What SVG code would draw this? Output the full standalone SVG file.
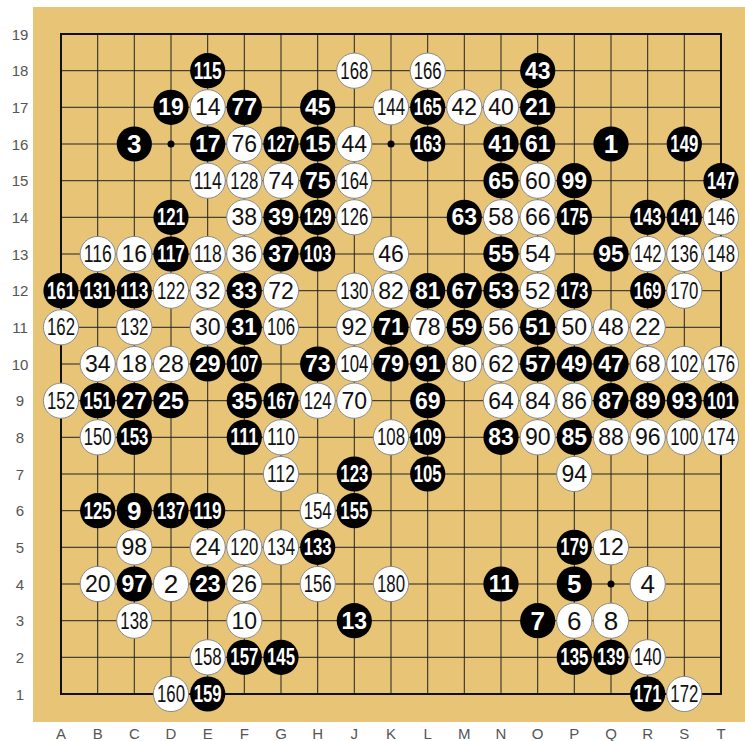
<svg xmlns="http://www.w3.org/2000/svg" width="745" height="741" viewBox="0 0 745 741">
<style>
.board{fill:#E8C477}
.grid line{stroke:#222;stroke-width:1}
.edge{fill:none;stroke:#111;stroke-width:2}
.star{fill:#000}
.b circle{fill:#000}
.w circle{fill:#fff;stroke:#8a8a8a;stroke-width:1}
text{font-family:"Liberation Sans",Arial,sans-serif;text-anchor:middle;dominant-baseline:central}
.b text{fill:#fff;font-weight:bold}
.w text{fill:#111}
.d1{font-size:26px}
.d2{font-size:23px}
.d3{font-size:23px}
.lab{fill:#555;font-size:15px}
</style>
<rect x="0" y="0" width="745" height="741" fill="#fff"/>
<rect class="board" x="33" y="7" width="712" height="715"/>
<g id="grid" class="grid">
<line x1="61" y1="70.7" x2="721" y2="70.7"/><line x1="61" y1="107.3" x2="721" y2="107.3"/><line x1="61" y1="144" x2="721" y2="144"/><line x1="61" y1="180.7" x2="721" y2="180.7"/><line x1="61" y1="217.3" x2="721" y2="217.3"/><line x1="61" y1="254" x2="721" y2="254"/><line x1="61" y1="290.7" x2="721" y2="290.7"/><line x1="61" y1="327.3" x2="721" y2="327.3"/><line x1="61" y1="364" x2="721" y2="364"/><line x1="61" y1="400.7" x2="721" y2="400.7"/><line x1="61" y1="437.3" x2="721" y2="437.3"/><line x1="61" y1="474" x2="721" y2="474"/><line x1="61" y1="510.7" x2="721" y2="510.7"/><line x1="61" y1="547.3" x2="721" y2="547.3"/><line x1="61" y1="584" x2="721" y2="584"/><line x1="61" y1="620.7" x2="721" y2="620.7"/><line x1="61" y1="657.3" x2="721" y2="657.3"/>
<line x1="97.7" y1="34" x2="97.7" y2="694"/><line x1="134.3" y1="34" x2="134.3" y2="694"/><line x1="171" y1="34" x2="171" y2="694"/><line x1="207.7" y1="34" x2="207.7" y2="694"/><line x1="244.3" y1="34" x2="244.3" y2="694"/><line x1="281" y1="34" x2="281" y2="694"/><line x1="317.7" y1="34" x2="317.7" y2="694"/><line x1="354.3" y1="34" x2="354.3" y2="694"/><line x1="391" y1="34" x2="391" y2="694"/><line x1="427.7" y1="34" x2="427.7" y2="694"/><line x1="464.3" y1="34" x2="464.3" y2="694"/><line x1="501" y1="34" x2="501" y2="694"/><line x1="537.7" y1="34" x2="537.7" y2="694"/><line x1="574.3" y1="34" x2="574.3" y2="694"/><line x1="611" y1="34" x2="611" y2="694"/><line x1="647.7" y1="34" x2="647.7" y2="694"/><line x1="684.3" y1="34" x2="684.3" y2="694"/>
<rect class="edge" x="61" y="34" width="660" height="660"/>
<circle class="star" cx="171" cy="144" r="3.5"/><circle class="star" cx="391" cy="144" r="3.5"/><circle class="star" cx="611" cy="584" r="3.5"/>
</g>
<g id="labels" class="lab">
<text class="lab" x="20" y="34">19</text><text class="lab" x="20" y="70.7">18</text><text class="lab" x="20" y="107.3">17</text><text class="lab" x="20" y="144">16</text><text class="lab" x="20" y="180.7">15</text><text class="lab" x="20" y="217.3">14</text><text class="lab" x="20" y="254">13</text><text class="lab" x="20" y="290.7">12</text><text class="lab" x="20" y="327.3">11</text><text class="lab" x="20" y="364">10</text><text class="lab" x="20" y="400.7">9</text><text class="lab" x="20" y="437.3">8</text><text class="lab" x="20" y="474">7</text><text class="lab" x="20" y="510.7">6</text><text class="lab" x="20" y="547.3">5</text><text class="lab" x="20" y="584">4</text><text class="lab" x="20" y="620.7">3</text><text class="lab" x="20" y="657.3">2</text><text class="lab" x="20" y="694">1</text>
<text class="lab" x="61" y="733">A</text><text class="lab" x="97.7" y="733">B</text><text class="lab" x="134.3" y="733">C</text><text class="lab" x="171" y="733">D</text><text class="lab" x="207.7" y="733">E</text><text class="lab" x="244.3" y="733">F</text><text class="lab" x="281" y="733">G</text><text class="lab" x="317.7" y="733">H</text><text class="lab" x="354.3" y="733">J</text><text class="lab" x="391" y="733">K</text><text class="lab" x="427.7" y="733">L</text><text class="lab" x="464.3" y="733">M</text><text class="lab" x="501" y="733">N</text><text class="lab" x="537.7" y="733">O</text><text class="lab" x="574.3" y="733">P</text><text class="lab" x="611" y="733">Q</text><text class="lab" x="647.7" y="733">R</text><text class="lab" x="684.3" y="733">S</text><text class="lab" x="721" y="733">T</text>
</g>
<g id="stones">
<!-- row 18 -->
<g id="E18" class="b"><circle cx="207.7" cy="70.7" r="17.6"/><text class="d3" x="207.7" y="70.7" textLength="28" lengthAdjust="spacingAndGlyphs">115</text></g>
<g id="J18" class="w"><circle cx="354.3" cy="70.7" r="17.6"/><text class="d3" x="354.3" y="70.7" textLength="28" lengthAdjust="spacingAndGlyphs">168</text></g>
<g id="L18" class="w"><circle cx="427.7" cy="70.7" r="17.6"/><text class="d3" x="427.7" y="70.7" textLength="28" lengthAdjust="spacingAndGlyphs">166</text></g>
<g id="O18" class="b"><circle cx="537.7" cy="70.7" r="17.6"/><text class="d2" x="537.7" y="70.7">43</text></g>
<!-- row 17 -->
<g id="D17" class="b"><circle cx="171" cy="107.3" r="17.6"/><text class="d2" x="171" y="107.3">19</text></g>
<g id="E17" class="w"><circle cx="207.7" cy="107.3" r="17.6"/><text class="d2" x="207.7" y="107.3">14</text></g>
<g id="F17" class="b"><circle cx="244.3" cy="107.3" r="17.6"/><text class="d2" x="244.3" y="107.3">77</text></g>
<g id="H17" class="b"><circle cx="317.7" cy="107.3" r="17.6"/><text class="d2" x="317.7" y="107.3">45</text></g>
<g id="K17" class="w"><circle cx="391" cy="107.3" r="17.6"/><text class="d3" x="391" y="107.3" textLength="28" lengthAdjust="spacingAndGlyphs">144</text></g>
<g id="L17" class="b"><circle cx="427.7" cy="107.3" r="17.6"/><text class="d3" x="427.7" y="107.3" textLength="28" lengthAdjust="spacingAndGlyphs">165</text></g>
<g id="M17" class="w"><circle cx="464.3" cy="107.3" r="17.6"/><text class="d2" x="464.3" y="107.3">42</text></g>
<g id="N17" class="w"><circle cx="501" cy="107.3" r="17.6"/><text class="d2" x="501" y="107.3">40</text></g>
<g id="O17" class="b"><circle cx="537.7" cy="107.3" r="17.6"/><text class="d2" x="537.7" y="107.3">21</text></g>
<!-- row 16 -->
<g id="C16" class="b"><circle cx="134.3" cy="144" r="17.6"/><text class="d1" x="134.3" y="144">3</text></g>
<g id="E16" class="b"><circle cx="207.7" cy="144" r="17.6"/><text class="d2" x="207.7" y="144">17</text></g>
<g id="F16" class="w"><circle cx="244.3" cy="144" r="17.6"/><text class="d2" x="244.3" y="144">76</text></g>
<g id="G16" class="b"><circle cx="281" cy="144" r="17.6"/><text class="d3" x="281" y="144" textLength="28" lengthAdjust="spacingAndGlyphs">127</text></g>
<g id="H16" class="b"><circle cx="317.7" cy="144" r="17.6"/><text class="d2" x="317.7" y="144">15</text></g>
<g id="J16" class="w"><circle cx="354.3" cy="144" r="17.6"/><text class="d2" x="354.3" y="144">44</text></g>
<g id="L16" class="b"><circle cx="427.7" cy="144" r="17.6"/><text class="d3" x="427.7" y="144" textLength="28" lengthAdjust="spacingAndGlyphs">163</text></g>
<g id="N16" class="b"><circle cx="501" cy="144" r="17.6"/><text class="d2" x="501" y="144">41</text></g>
<g id="O16" class="b"><circle cx="537.7" cy="144" r="17.6"/><text class="d2" x="537.7" y="144">61</text></g>
<g id="Q16" class="b"><circle cx="611" cy="144" r="17.6"/><text class="d1" x="611" y="144">1</text></g>
<g id="S16" class="b"><circle cx="684.3" cy="144" r="17.6"/><text class="d3" x="684.3" y="144" textLength="28" lengthAdjust="spacingAndGlyphs">149</text></g>
<!-- row 15 -->
<g id="E15" class="w"><circle cx="207.7" cy="180.7" r="17.6"/><text class="d3" x="207.7" y="180.7" textLength="28" lengthAdjust="spacingAndGlyphs">114</text></g>
<g id="F15" class="w"><circle cx="244.3" cy="180.7" r="17.6"/><text class="d3" x="244.3" y="180.7" textLength="28" lengthAdjust="spacingAndGlyphs">128</text></g>
<g id="G15" class="w"><circle cx="281" cy="180.7" r="17.6"/><text class="d2" x="281" y="180.7">74</text></g>
<g id="H15" class="b"><circle cx="317.7" cy="180.7" r="17.6"/><text class="d2" x="317.7" y="180.7">75</text></g>
<g id="J15" class="w"><circle cx="354.3" cy="180.7" r="17.6"/><text class="d3" x="354.3" y="180.7" textLength="28" lengthAdjust="spacingAndGlyphs">164</text></g>
<g id="N15" class="b"><circle cx="501" cy="180.7" r="17.6"/><text class="d2" x="501" y="180.7">65</text></g>
<g id="O15" class="w"><circle cx="537.7" cy="180.7" r="17.6"/><text class="d2" x="537.7" y="180.7">60</text></g>
<g id="P15" class="b"><circle cx="574.3" cy="180.7" r="17.6"/><text class="d2" x="574.3" y="180.7">99</text></g>
<g id="T15" class="b"><circle cx="721" cy="180.7" r="17.6"/><text class="d3" x="721" y="180.7" textLength="28" lengthAdjust="spacingAndGlyphs">147</text></g>
<!-- row 14 -->
<g id="D14" class="b"><circle cx="171" cy="217.3" r="17.6"/><text class="d3" x="171" y="217.3" textLength="28" lengthAdjust="spacingAndGlyphs">121</text></g>
<g id="F14" class="w"><circle cx="244.3" cy="217.3" r="17.6"/><text class="d2" x="244.3" y="217.3">38</text></g>
<g id="G14" class="b"><circle cx="281" cy="217.3" r="17.6"/><text class="d2" x="281" y="217.3">39</text></g>
<g id="H14" class="b"><circle cx="317.7" cy="217.3" r="17.6"/><text class="d3" x="317.7" y="217.3" textLength="28" lengthAdjust="spacingAndGlyphs">129</text></g>
<g id="J14" class="w"><circle cx="354.3" cy="217.3" r="17.6"/><text class="d3" x="354.3" y="217.3" textLength="28" lengthAdjust="spacingAndGlyphs">126</text></g>
<g id="M14" class="b"><circle cx="464.3" cy="217.3" r="17.6"/><text class="d2" x="464.3" y="217.3">63</text></g>
<g id="N14" class="w"><circle cx="501" cy="217.3" r="17.6"/><text class="d2" x="501" y="217.3">58</text></g>
<g id="O14" class="w"><circle cx="537.7" cy="217.3" r="17.6"/><text class="d2" x="537.7" y="217.3">66</text></g>
<g id="P14" class="b"><circle cx="574.3" cy="217.3" r="17.6"/><text class="d3" x="574.3" y="217.3" textLength="28" lengthAdjust="spacingAndGlyphs">175</text></g>
<g id="R14" class="b"><circle cx="647.7" cy="217.3" r="17.6"/><text class="d3" x="647.7" y="217.3" textLength="28" lengthAdjust="spacingAndGlyphs">143</text></g>
<g id="S14" class="b"><circle cx="684.3" cy="217.3" r="17.6"/><text class="d3" x="684.3" y="217.3" textLength="28" lengthAdjust="spacingAndGlyphs">141</text></g>
<g id="T14" class="w"><circle cx="721" cy="217.3" r="17.6"/><text class="d3" x="721" y="217.3" textLength="28" lengthAdjust="spacingAndGlyphs">146</text></g>
<!-- row 13 -->
<g id="B13" class="w"><circle cx="97.7" cy="254" r="17.6"/><text class="d3" x="97.7" y="254" textLength="28" lengthAdjust="spacingAndGlyphs">116</text></g>
<g id="C13" class="w"><circle cx="134.3" cy="254" r="17.6"/><text class="d2" x="134.3" y="254">16</text></g>
<g id="D13" class="b"><circle cx="171" cy="254" r="17.6"/><text class="d3" x="171" y="254" textLength="28" lengthAdjust="spacingAndGlyphs">117</text></g>
<g id="E13" class="w"><circle cx="207.7" cy="254" r="17.6"/><text class="d3" x="207.7" y="254" textLength="28" lengthAdjust="spacingAndGlyphs">118</text></g>
<g id="F13" class="w"><circle cx="244.3" cy="254" r="17.6"/><text class="d2" x="244.3" y="254">36</text></g>
<g id="G13" class="b"><circle cx="281" cy="254" r="17.6"/><text class="d2" x="281" y="254">37</text></g>
<g id="H13" class="b"><circle cx="317.7" cy="254" r="17.6"/><text class="d3" x="317.7" y="254" textLength="28" lengthAdjust="spacingAndGlyphs">103</text></g>
<g id="K13" class="w"><circle cx="391" cy="254" r="17.6"/><text class="d2" x="391" y="254">46</text></g>
<g id="N13" class="b"><circle cx="501" cy="254" r="17.6"/><text class="d2" x="501" y="254">55</text></g>
<g id="O13" class="w"><circle cx="537.7" cy="254" r="17.6"/><text class="d2" x="537.7" y="254">54</text></g>
<g id="Q13" class="b"><circle cx="611" cy="254" r="17.6"/><text class="d2" x="611" y="254">95</text></g>
<g id="R13" class="w"><circle cx="647.7" cy="254" r="17.6"/><text class="d3" x="647.7" y="254" textLength="28" lengthAdjust="spacingAndGlyphs">142</text></g>
<g id="S13" class="w"><circle cx="684.3" cy="254" r="17.6"/><text class="d3" x="684.3" y="254" textLength="28" lengthAdjust="spacingAndGlyphs">136</text></g>
<g id="T13" class="w"><circle cx="721" cy="254" r="17.6"/><text class="d3" x="721" y="254" textLength="28" lengthAdjust="spacingAndGlyphs">148</text></g>
<!-- row 12 -->
<g id="A12" class="b"><circle cx="61" cy="290.7" r="17.6"/><text class="d3" x="61" y="290.7" textLength="28" lengthAdjust="spacingAndGlyphs">161</text></g>
<g id="B12" class="b"><circle cx="97.7" cy="290.7" r="17.6"/><text class="d3" x="97.7" y="290.7" textLength="28" lengthAdjust="spacingAndGlyphs">131</text></g>
<g id="C12" class="b"><circle cx="134.3" cy="290.7" r="17.6"/><text class="d3" x="134.3" y="290.7" textLength="28" lengthAdjust="spacingAndGlyphs">113</text></g>
<g id="D12" class="w"><circle cx="171" cy="290.7" r="17.6"/><text class="d3" x="171" y="290.7" textLength="28" lengthAdjust="spacingAndGlyphs">122</text></g>
<g id="E12" class="w"><circle cx="207.7" cy="290.7" r="17.6"/><text class="d2" x="207.7" y="290.7">32</text></g>
<g id="F12" class="b"><circle cx="244.3" cy="290.7" r="17.6"/><text class="d2" x="244.3" y="290.7">33</text></g>
<g id="G12" class="w"><circle cx="281" cy="290.7" r="17.6"/><text class="d2" x="281" y="290.7">72</text></g>
<g id="J12" class="w"><circle cx="354.3" cy="290.7" r="17.6"/><text class="d3" x="354.3" y="290.7" textLength="28" lengthAdjust="spacingAndGlyphs">130</text></g>
<g id="K12" class="w"><circle cx="391" cy="290.7" r="17.6"/><text class="d2" x="391" y="290.7">82</text></g>
<g id="L12" class="b"><circle cx="427.7" cy="290.7" r="17.6"/><text class="d2" x="427.7" y="290.7">81</text></g>
<g id="M12" class="b"><circle cx="464.3" cy="290.7" r="17.6"/><text class="d2" x="464.3" y="290.7">67</text></g>
<g id="N12" class="b"><circle cx="501" cy="290.7" r="17.6"/><text class="d2" x="501" y="290.7">53</text></g>
<g id="O12" class="w"><circle cx="537.7" cy="290.7" r="17.6"/><text class="d2" x="537.7" y="290.7">52</text></g>
<g id="P12" class="b"><circle cx="574.3" cy="290.7" r="17.6"/><text class="d3" x="574.3" y="290.7" textLength="28" lengthAdjust="spacingAndGlyphs">173</text></g>
<g id="R12" class="b"><circle cx="647.7" cy="290.7" r="17.6"/><text class="d3" x="647.7" y="290.7" textLength="28" lengthAdjust="spacingAndGlyphs">169</text></g>
<g id="S12" class="w"><circle cx="684.3" cy="290.7" r="17.6"/><text class="d3" x="684.3" y="290.7" textLength="28" lengthAdjust="spacingAndGlyphs">170</text></g>
<!-- row 11 -->
<g id="A11" class="w"><circle cx="61" cy="327.3" r="17.6"/><text class="d3" x="61" y="327.3" textLength="28" lengthAdjust="spacingAndGlyphs">162</text></g>
<g id="C11" class="w"><circle cx="134.3" cy="327.3" r="17.6"/><text class="d3" x="134.3" y="327.3" textLength="28" lengthAdjust="spacingAndGlyphs">132</text></g>
<g id="E11" class="w"><circle cx="207.7" cy="327.3" r="17.6"/><text class="d2" x="207.7" y="327.3">30</text></g>
<g id="F11" class="b"><circle cx="244.3" cy="327.3" r="17.6"/><text class="d2" x="244.3" y="327.3">31</text></g>
<g id="G11" class="w"><circle cx="281" cy="327.3" r="17.6"/><text class="d3" x="281" y="327.3" textLength="28" lengthAdjust="spacingAndGlyphs">106</text></g>
<g id="J11" class="w"><circle cx="354.3" cy="327.3" r="17.6"/><text class="d2" x="354.3" y="327.3">92</text></g>
<g id="K11" class="b"><circle cx="391" cy="327.3" r="17.6"/><text class="d2" x="391" y="327.3">71</text></g>
<g id="L11" class="w"><circle cx="427.7" cy="327.3" r="17.6"/><text class="d2" x="427.7" y="327.3">78</text></g>
<g id="M11" class="b"><circle cx="464.3" cy="327.3" r="17.6"/><text class="d2" x="464.3" y="327.3">59</text></g>
<g id="N11" class="w"><circle cx="501" cy="327.3" r="17.6"/><text class="d2" x="501" y="327.3">56</text></g>
<g id="O11" class="b"><circle cx="537.7" cy="327.3" r="17.6"/><text class="d2" x="537.7" y="327.3">51</text></g>
<g id="P11" class="w"><circle cx="574.3" cy="327.3" r="17.6"/><text class="d2" x="574.3" y="327.3">50</text></g>
<g id="Q11" class="w"><circle cx="611" cy="327.3" r="17.6"/><text class="d2" x="611" y="327.3">48</text></g>
<g id="R11" class="w"><circle cx="647.7" cy="327.3" r="17.6"/><text class="d2" x="647.7" y="327.3">22</text></g>
<!-- row 10 -->
<g id="B10" class="w"><circle cx="97.7" cy="364" r="17.6"/><text class="d2" x="97.7" y="364">34</text></g>
<g id="C10" class="w"><circle cx="134.3" cy="364" r="17.6"/><text class="d2" x="134.3" y="364">18</text></g>
<g id="D10" class="w"><circle cx="171" cy="364" r="17.6"/><text class="d2" x="171" y="364">28</text></g>
<g id="E10" class="b"><circle cx="207.7" cy="364" r="17.6"/><text class="d2" x="207.7" y="364">29</text></g>
<g id="F10" class="b"><circle cx="244.3" cy="364" r="17.6"/><text class="d3" x="244.3" y="364" textLength="28" lengthAdjust="spacingAndGlyphs">107</text></g>
<g id="H10" class="b"><circle cx="317.7" cy="364" r="17.6"/><text class="d2" x="317.7" y="364">73</text></g>
<g id="J10" class="w"><circle cx="354.3" cy="364" r="17.6"/><text class="d3" x="354.3" y="364" textLength="28" lengthAdjust="spacingAndGlyphs">104</text></g>
<g id="K10" class="b"><circle cx="391" cy="364" r="17.6"/><text class="d2" x="391" y="364">79</text></g>
<g id="L10" class="b"><circle cx="427.7" cy="364" r="17.6"/><text class="d2" x="427.7" y="364">91</text></g>
<g id="M10" class="w"><circle cx="464.3" cy="364" r="17.6"/><text class="d2" x="464.3" y="364">80</text></g>
<g id="N10" class="w"><circle cx="501" cy="364" r="17.6"/><text class="d2" x="501" y="364">62</text></g>
<g id="O10" class="b"><circle cx="537.7" cy="364" r="17.6"/><text class="d2" x="537.7" y="364">57</text></g>
<g id="P10" class="b"><circle cx="574.3" cy="364" r="17.6"/><text class="d2" x="574.3" y="364">49</text></g>
<g id="Q10" class="b"><circle cx="611" cy="364" r="17.6"/><text class="d2" x="611" y="364">47</text></g>
<g id="R10" class="w"><circle cx="647.7" cy="364" r="17.6"/><text class="d2" x="647.7" y="364">68</text></g>
<g id="S10" class="w"><circle cx="684.3" cy="364" r="17.6"/><text class="d3" x="684.3" y="364" textLength="28" lengthAdjust="spacingAndGlyphs">102</text></g>
<g id="T10" class="w"><circle cx="721" cy="364" r="17.6"/><text class="d3" x="721" y="364" textLength="28" lengthAdjust="spacingAndGlyphs">176</text></g>
<!-- row 9 -->
<g id="A9" class="w"><circle cx="61" cy="400.7" r="17.6"/><text class="d3" x="61" y="400.7" textLength="28" lengthAdjust="spacingAndGlyphs">152</text></g>
<g id="B9" class="b"><circle cx="97.7" cy="400.7" r="17.6"/><text class="d3" x="97.7" y="400.7" textLength="28" lengthAdjust="spacingAndGlyphs">151</text></g>
<g id="C9" class="b"><circle cx="134.3" cy="400.7" r="17.6"/><text class="d2" x="134.3" y="400.7">27</text></g>
<g id="D9" class="b"><circle cx="171" cy="400.7" r="17.6"/><text class="d2" x="171" y="400.7">25</text></g>
<g id="F9" class="b"><circle cx="244.3" cy="400.7" r="17.6"/><text class="d2" x="244.3" y="400.7">35</text></g>
<g id="G9" class="b"><circle cx="281" cy="400.7" r="17.6"/><text class="d3" x="281" y="400.7" textLength="28" lengthAdjust="spacingAndGlyphs">167</text></g>
<g id="H9" class="w"><circle cx="317.7" cy="400.7" r="17.6"/><text class="d3" x="317.7" y="400.7" textLength="28" lengthAdjust="spacingAndGlyphs">124</text></g>
<g id="J9" class="w"><circle cx="354.3" cy="400.7" r="17.6"/><text class="d2" x="354.3" y="400.7">70</text></g>
<g id="L9" class="b"><circle cx="427.7" cy="400.7" r="17.6"/><text class="d2" x="427.7" y="400.7">69</text></g>
<g id="N9" class="w"><circle cx="501" cy="400.7" r="17.6"/><text class="d2" x="501" y="400.7">64</text></g>
<g id="O9" class="w"><circle cx="537.7" cy="400.7" r="17.6"/><text class="d2" x="537.7" y="400.7">84</text></g>
<g id="P9" class="w"><circle cx="574.3" cy="400.7" r="17.6"/><text class="d2" x="574.3" y="400.7">86</text></g>
<g id="Q9" class="b"><circle cx="611" cy="400.7" r="17.6"/><text class="d2" x="611" y="400.7">87</text></g>
<g id="R9" class="b"><circle cx="647.7" cy="400.7" r="17.6"/><text class="d2" x="647.7" y="400.7">89</text></g>
<g id="S9" class="b"><circle cx="684.3" cy="400.7" r="17.6"/><text class="d2" x="684.3" y="400.7">93</text></g>
<g id="T9" class="b"><circle cx="721" cy="400.7" r="17.6"/><text class="d3" x="721" y="400.7" textLength="28" lengthAdjust="spacingAndGlyphs">101</text></g>
<!-- row 8 -->
<g id="B8" class="w"><circle cx="97.7" cy="437.3" r="17.6"/><text class="d3" x="97.7" y="437.3" textLength="28" lengthAdjust="spacingAndGlyphs">150</text></g>
<g id="C8" class="b"><circle cx="134.3" cy="437.3" r="17.6"/><text class="d3" x="134.3" y="437.3" textLength="28" lengthAdjust="spacingAndGlyphs">153</text></g>
<g id="F8" class="b"><circle cx="244.3" cy="437.3" r="17.6"/><text class="d3" x="244.3" y="437.3" textLength="28" lengthAdjust="spacingAndGlyphs">111</text></g>
<g id="G8" class="w"><circle cx="281" cy="437.3" r="17.6"/><text class="d3" x="281" y="437.3" textLength="28" lengthAdjust="spacingAndGlyphs">110</text></g>
<g id="K8" class="w"><circle cx="391" cy="437.3" r="17.6"/><text class="d3" x="391" y="437.3" textLength="28" lengthAdjust="spacingAndGlyphs">108</text></g>
<g id="L8" class="b"><circle cx="427.7" cy="437.3" r="17.6"/><text class="d3" x="427.7" y="437.3" textLength="28" lengthAdjust="spacingAndGlyphs">109</text></g>
<g id="N8" class="b"><circle cx="501" cy="437.3" r="17.6"/><text class="d2" x="501" y="437.3">83</text></g>
<g id="O8" class="w"><circle cx="537.7" cy="437.3" r="17.6"/><text class="d2" x="537.7" y="437.3">90</text></g>
<g id="P8" class="b"><circle cx="574.3" cy="437.3" r="17.6"/><text class="d2" x="574.3" y="437.3">85</text></g>
<g id="Q8" class="w"><circle cx="611" cy="437.3" r="17.6"/><text class="d2" x="611" y="437.3">88</text></g>
<g id="R8" class="w"><circle cx="647.7" cy="437.3" r="17.6"/><text class="d2" x="647.7" y="437.3">96</text></g>
<g id="S8" class="w"><circle cx="684.3" cy="437.3" r="17.6"/><text class="d3" x="684.3" y="437.3" textLength="28" lengthAdjust="spacingAndGlyphs">100</text></g>
<g id="T8" class="w"><circle cx="721" cy="437.3" r="17.6"/><text class="d3" x="721" y="437.3" textLength="28" lengthAdjust="spacingAndGlyphs">174</text></g>
<!-- row 7 -->
<g id="G7" class="w"><circle cx="281" cy="474" r="17.6"/><text class="d3" x="281" y="474" textLength="28" lengthAdjust="spacingAndGlyphs">112</text></g>
<g id="J7" class="b"><circle cx="354.3" cy="474" r="17.6"/><text class="d3" x="354.3" y="474" textLength="28" lengthAdjust="spacingAndGlyphs">123</text></g>
<g id="L7" class="b"><circle cx="427.7" cy="474" r="17.6"/><text class="d3" x="427.7" y="474" textLength="28" lengthAdjust="spacingAndGlyphs">105</text></g>
<g id="P7" class="w"><circle cx="574.3" cy="474" r="17.6"/><text class="d2" x="574.3" y="474">94</text></g>
<!-- row 6 -->
<g id="B6" class="b"><circle cx="97.7" cy="510.7" r="17.6"/><text class="d3" x="97.7" y="510.7" textLength="28" lengthAdjust="spacingAndGlyphs">125</text></g>
<g id="C6" class="b"><circle cx="134.3" cy="510.7" r="17.6"/><text class="d1" x="134.3" y="510.7">9</text></g>
<g id="D6" class="b"><circle cx="171" cy="510.7" r="17.6"/><text class="d3" x="171" y="510.7" textLength="28" lengthAdjust="spacingAndGlyphs">137</text></g>
<g id="E6" class="b"><circle cx="207.7" cy="510.7" r="17.6"/><text class="d3" x="207.7" y="510.7" textLength="28" lengthAdjust="spacingAndGlyphs">119</text></g>
<g id="H6" class="w"><circle cx="317.7" cy="510.7" r="17.6"/><text class="d3" x="317.7" y="510.7" textLength="28" lengthAdjust="spacingAndGlyphs">154</text></g>
<g id="J6" class="b"><circle cx="354.3" cy="510.7" r="17.6"/><text class="d3" x="354.3" y="510.7" textLength="28" lengthAdjust="spacingAndGlyphs">155</text></g>
<!-- row 5 -->
<g id="C5" class="w"><circle cx="134.3" cy="547.3" r="17.6"/><text class="d2" x="134.3" y="547.3">98</text></g>
<g id="E5" class="w"><circle cx="207.7" cy="547.3" r="17.6"/><text class="d2" x="207.7" y="547.3">24</text></g>
<g id="F5" class="w"><circle cx="244.3" cy="547.3" r="17.6"/><text class="d3" x="244.3" y="547.3" textLength="28" lengthAdjust="spacingAndGlyphs">120</text></g>
<g id="G5" class="w"><circle cx="281" cy="547.3" r="17.6"/><text class="d3" x="281" y="547.3" textLength="28" lengthAdjust="spacingAndGlyphs">134</text></g>
<g id="H5" class="b"><circle cx="317.7" cy="547.3" r="17.6"/><text class="d3" x="317.7" y="547.3" textLength="28" lengthAdjust="spacingAndGlyphs">133</text></g>
<g id="P5" class="b"><circle cx="574.3" cy="547.3" r="17.6"/><text class="d3" x="574.3" y="547.3" textLength="28" lengthAdjust="spacingAndGlyphs">179</text></g>
<g id="Q5" class="w"><circle cx="611" cy="547.3" r="17.6"/><text class="d2" x="611" y="547.3">12</text></g>
<!-- row 4 -->
<g id="B4" class="w"><circle cx="97.7" cy="584" r="17.6"/><text class="d2" x="97.7" y="584">20</text></g>
<g id="C4" class="b"><circle cx="134.3" cy="584" r="17.6"/><text class="d2" x="134.3" y="584">97</text></g>
<g id="D4" class="w"><circle cx="171" cy="584" r="17.6"/><text class="d1" x="171" y="584">2</text></g>
<g id="E4" class="b"><circle cx="207.7" cy="584" r="17.6"/><text class="d2" x="207.7" y="584">23</text></g>
<g id="F4" class="w"><circle cx="244.3" cy="584" r="17.6"/><text class="d2" x="244.3" y="584">26</text></g>
<g id="H4" class="w"><circle cx="317.7" cy="584" r="17.6"/><text class="d3" x="317.7" y="584" textLength="28" lengthAdjust="spacingAndGlyphs">156</text></g>
<g id="K4" class="w"><circle cx="391" cy="584" r="17.6"/><text class="d3" x="391" y="584" textLength="28" lengthAdjust="spacingAndGlyphs">180</text></g>
<g id="N4" class="b"><circle cx="501" cy="584" r="17.6"/><text class="d2" x="501" y="584">11</text></g>
<g id="P4" class="b"><circle cx="574.3" cy="584" r="17.6"/><text class="d1" x="574.3" y="584">5</text></g>
<g id="R4" class="w"><circle cx="647.7" cy="584" r="17.6"/><text class="d1" x="647.7" y="584">4</text></g>
<!-- row 3 -->
<g id="C3" class="w"><circle cx="134.3" cy="620.7" r="17.6"/><text class="d3" x="134.3" y="620.7" textLength="28" lengthAdjust="spacingAndGlyphs">138</text></g>
<g id="F3" class="w"><circle cx="244.3" cy="620.7" r="17.6"/><text class="d2" x="244.3" y="620.7">10</text></g>
<g id="J3" class="b"><circle cx="354.3" cy="620.7" r="17.6"/><text class="d2" x="354.3" y="620.7">13</text></g>
<g id="O3" class="b"><circle cx="537.7" cy="620.7" r="17.6"/><text class="d1" x="537.7" y="620.7">7</text></g>
<g id="P3" class="w"><circle cx="574.3" cy="620.7" r="17.6"/><text class="d1" x="574.3" y="620.7">6</text></g>
<g id="Q3" class="w"><circle cx="611" cy="620.7" r="17.6"/><text class="d1" x="611" y="620.7">8</text></g>
<!-- row 2 -->
<g id="E2" class="w"><circle cx="207.7" cy="657.3" r="17.6"/><text class="d3" x="207.7" y="657.3" textLength="28" lengthAdjust="spacingAndGlyphs">158</text></g>
<g id="F2" class="b"><circle cx="244.3" cy="657.3" r="17.6"/><text class="d3" x="244.3" y="657.3" textLength="28" lengthAdjust="spacingAndGlyphs">157</text></g>
<g id="G2" class="b"><circle cx="281" cy="657.3" r="17.6"/><text class="d3" x="281" y="657.3" textLength="28" lengthAdjust="spacingAndGlyphs">145</text></g>
<g id="P2" class="b"><circle cx="574.3" cy="657.3" r="17.6"/><text class="d3" x="574.3" y="657.3" textLength="28" lengthAdjust="spacingAndGlyphs">135</text></g>
<g id="Q2" class="b"><circle cx="611" cy="657.3" r="17.6"/><text class="d3" x="611" y="657.3" textLength="28" lengthAdjust="spacingAndGlyphs">139</text></g>
<g id="R2" class="w"><circle cx="647.7" cy="657.3" r="17.6"/><text class="d3" x="647.7" y="657.3" textLength="28" lengthAdjust="spacingAndGlyphs">140</text></g>
<!-- row 1 -->
<g id="D1" class="w"><circle cx="171" cy="694" r="17.6"/><text class="d3" x="171" y="694" textLength="28" lengthAdjust="spacingAndGlyphs">160</text></g>
<g id="E1" class="b"><circle cx="207.7" cy="694" r="17.6"/><text class="d3" x="207.7" y="694" textLength="28" lengthAdjust="spacingAndGlyphs">159</text></g>
<g id="R1" class="b"><circle cx="647.7" cy="694" r="17.6"/><text class="d3" x="647.7" y="694" textLength="28" lengthAdjust="spacingAndGlyphs">171</text></g>
<g id="S1" class="w"><circle cx="684.3" cy="694" r="17.6"/><text class="d3" x="684.3" y="694" textLength="28" lengthAdjust="spacingAndGlyphs">172</text></g>
</g>
</svg>
